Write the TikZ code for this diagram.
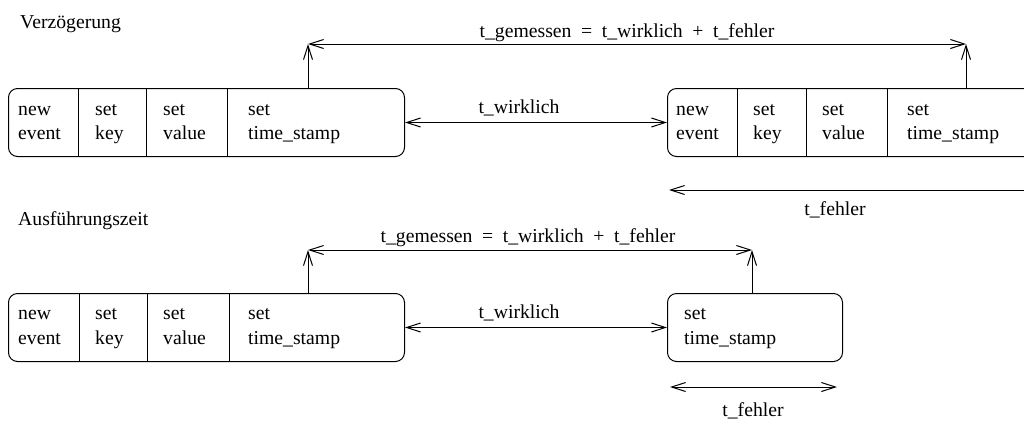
\documentclass[tikz,border=0pt]{standalone}
\usepackage{fontspec}
\setmainfont{Liberation Serif}
\usetikzlibrary{arrows.meta}

\begin{document}
\begin{tikzpicture}[x=1pt,y=-1pt,
  txt/.style={inner sep=0pt, anchor=base west, font=\fontsize{19.7}{24}\selectfont},
  ctr/.style={inner sep=0pt, anchor=base, font=\fontsize{19.7}{24}\selectfont},
  wide/.style={ctr, execute at begin node={\spaceskip=9.6pt plus 1pt}},
  stage/.style={draw, line width=1pt, rounded corners=9pt, inner sep=0pt,
                anchor=north west, minimum height=68pt},
  sep/.style={line width=1pt},
  tip/.tip={Straight Barb[length=14pt,width=9pt,line width=1pt]},
  arr/.style={line width=1pt, -tip},
  darr/.style={line width=1pt, tip-tip}]

\useasboundingbox (0,0) rectangle (1024,424);
\clip (0,0) rectangle (1024,424);

% ---------------- Verzoegerung ----------------
\node[txt] (h1) at (20,28) {Verzögerung};

\node[stage, minimum width=396pt] (a1) at (8,88) {};
\foreach \x in {78,146,227} \draw[sep] (\x,88) -- (\x,156);
\node[txt] (a1n1) at (18,115) {new};
\node[txt] (a1n2) at (18,139) {event};
\node[txt] (a1k1) at (95,115) {set};
\node[txt] (a1k2) at (95,139) {key};
\node[txt] (a1v1) at (163,115) {set};
\node[txt] (a1v2) at (163,139) {value};
\node[txt] (a1t1) at (248,115) {set};
\node[txt] (a1t2) at (248,139) {time\_stamp};

\node[stage, minimum width=397pt] (a2) at (667,88) {};
\foreach \x in {737,806,887} \draw[sep] (\x,88) -- (\x,156);
\node[txt] (a2n1) at (676,115) {new};
\node[txt] (a2n2) at (676,139) {event};
\node[txt] (a2k1) at (753,115) {set};
\node[txt] (a2k2) at (753,139) {key};
\node[txt] (a2v1) at (822,115) {set};
\node[txt] (a2v2) at (822,139) {value};
\node[txt] (a2t1) at (907,115) {set};
\node[txt] (a2t2) at (907,139) {time\_stamp};

\coordinate (g1) at (308,44);
\coordinate (g2) at (966,44);
\draw[arr] (a1.north -| g1) -- (g1);
\draw[arr] (a2.north -| g2) -- (g2);
\draw[darr] (g1) -- (g2);
\node[wide] (lg1) at (627,37) {t\_gemessen = t\_wirklich + t\_fehler};

\draw[darr] (a1.east) -- (a2.west);
\node[ctr] (lw1) at (519,113) {t\_wirklich};

\coordinate (f1a) at (1030,190);
\coordinate (f1b) at (669,190);
\draw[arr] (f1a) -- (f1b);
\node[ctr] (lf1) at (835,215) {t\_fehler};

% ---------------- Ausfuehrungszeit ----------------
\node[txt] (h2) at (18,225) {Ausführungszeit};

\node[stage, minimum width=396pt] (b1) at (8,293) {};
\foreach \x in {79,147,229} \draw[sep] (\x,293) -- (\x,361);
\node[txt] (b1n1) at (18,319) {new};
\node[txt] (b1n2) at (18,344) {event};
\node[txt] (b1k1) at (95,319) {set};
\node[txt] (b1k2) at (95,344) {key};
\node[txt] (b1v1) at (163,319) {set};
\node[txt] (b1v2) at (163,344) {value};
\node[txt] (b1t1) at (248,319) {set};
\node[txt] (b1t2) at (248,344) {time\_stamp};

\node[stage, minimum width=175pt] (b2) at (667,293) {};
\node[txt] (b2t1) at (684,319) {set};
\node[txt] (b2t2) at (684,344) {time\_stamp};

\coordinate (g3) at (308,250);
\coordinate (g4) at (752,250);
\draw[arr] (b1.north -| g3) -- (g3);
\draw[arr] (b2.north -| g4) -- (g4);
\draw[darr] (g3) -- (g4);
\node[wide] (lg2) at (528,242) {t\_gemessen = t\_wirklich + t\_fehler};

\draw[darr] (b1.east) -- (b2.west);
\node[ctr] (lw2) at (519,318) {t\_wirklich};

\coordinate (f2a) at (670,387);
\coordinate (f2b) at (837,387);
\draw[darr] (f2a) -- (f2b);
\node[ctr] (lf2) at (753,416) {t\_fehler};

\end{tikzpicture}
\end{document}
